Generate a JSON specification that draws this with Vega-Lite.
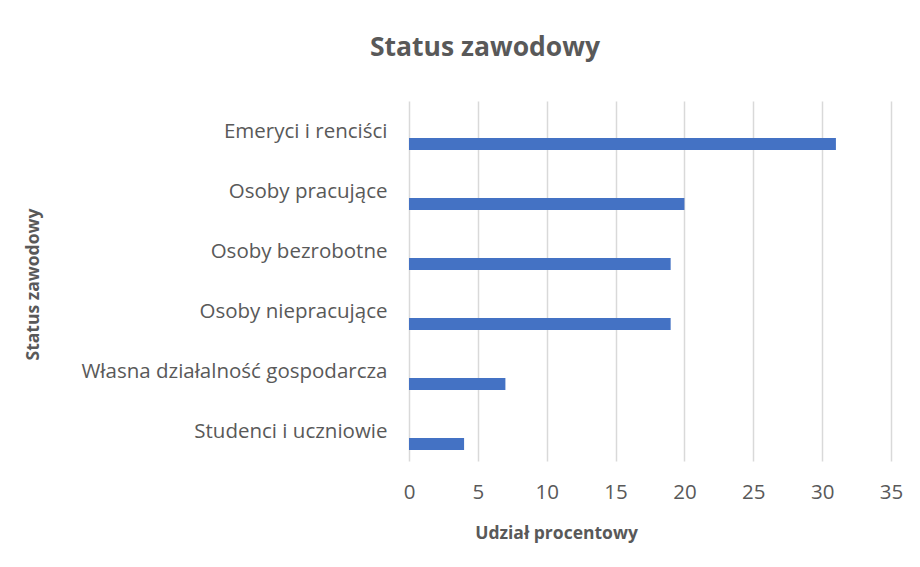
{
  "$schema": "https://vega.github.io/schema/vega-lite/v6.json",
  "width": 482,
  "height": 360,
  "autosize": {"type": "none"},
  "padding": {"left": 409, "top": 101, "right": 29, "bottom": 106},
  "background": "white",
  "title": {
    "text": "Status zawodowy",
    "font": "Open Sans",
    "fontSize": 26.5,
    "fontWeight": "bold",
    "color": "#595959",
    "anchor": "middle",
    "dx": -165,
    "offset": 40
  },
  "config": {
    "view": {"stroke": null},
    "font": "Open Sans"
  },
  "data": {
    "values": [
      {"status": "Emeryci i renciści", "udzial": 31},
      {"status": "Osoby pracujące", "udzial": 20},
      {"status": "Osoby bezrobotne", "udzial": 19},
      {"status": "Osoby niepracujące", "udzial": 19},
      {"status": "Własna działalność gospodarcza", "udzial": 7},
      {"status": "Studenci i uczniowie", "udzial": 4}
    ]
  },
  "mark": {"type": "bar", "color": "#4472C4", "height": 12, "yOffset": 13},
  "encoding": {
    "y": {
      "field": "status",
      "type": "nominal",
      "sort": null,
      "scale": {"paddingInner": 0, "paddingOuter": 0},
      "axis": {
        "title": "Status zawodowy",
        "titleFont": "Open Sans",
        "titleFontSize": 17.5,
        "titleFontWeight": "bold",
        "titleColor": "#595959",
        "titleX": -376,
        "titleY": 183,
        "titleAngle": -90,
        "titleBaseline": "middle",
        "titleAlign": "center",
        "labelFont": "Open Sans",
        "labelFontSize": 20.5,
        "labelColor": "#595959",
        "labelPadding": 22,
        "labelOffset": 1,
        "labelLimit": 400,
        "ticks": false,
        "tickSize": 0,
        "domain": false,
        "grid": false
      }
    },
    "x": {
      "field": "udzial",
      "type": "quantitative",
      "scale": {"domain": [0, 35], "nice": false},
      "axis": {
        "title": "Udział procentowy",
        "titleFont": "Open Sans",
        "titleFontSize": 17.5,
        "titleFontWeight": "bold",
        "titleColor": "#595959",
        "titleX": 147,
        "titleY": 72,
        "titleBaseline": "middle",
        "titleAlign": "center",
        "values": [0, 5, 10, 15, 20, 25, 30, 35],
        "labelFont": "Open Sans",
        "labelFontSize": 20.5,
        "labelColor": "#595959",
        "labelBaseline": "middle",
        "labelPadding": 31,
        "labelFlush": false,
        "ticks": false,
        "tickSize": 0,
        "domain": false,
        "grid": true,
        "gridColor": "#d9d9d9",
        "gridWidth": 1.5
      }
    }
  }
}
